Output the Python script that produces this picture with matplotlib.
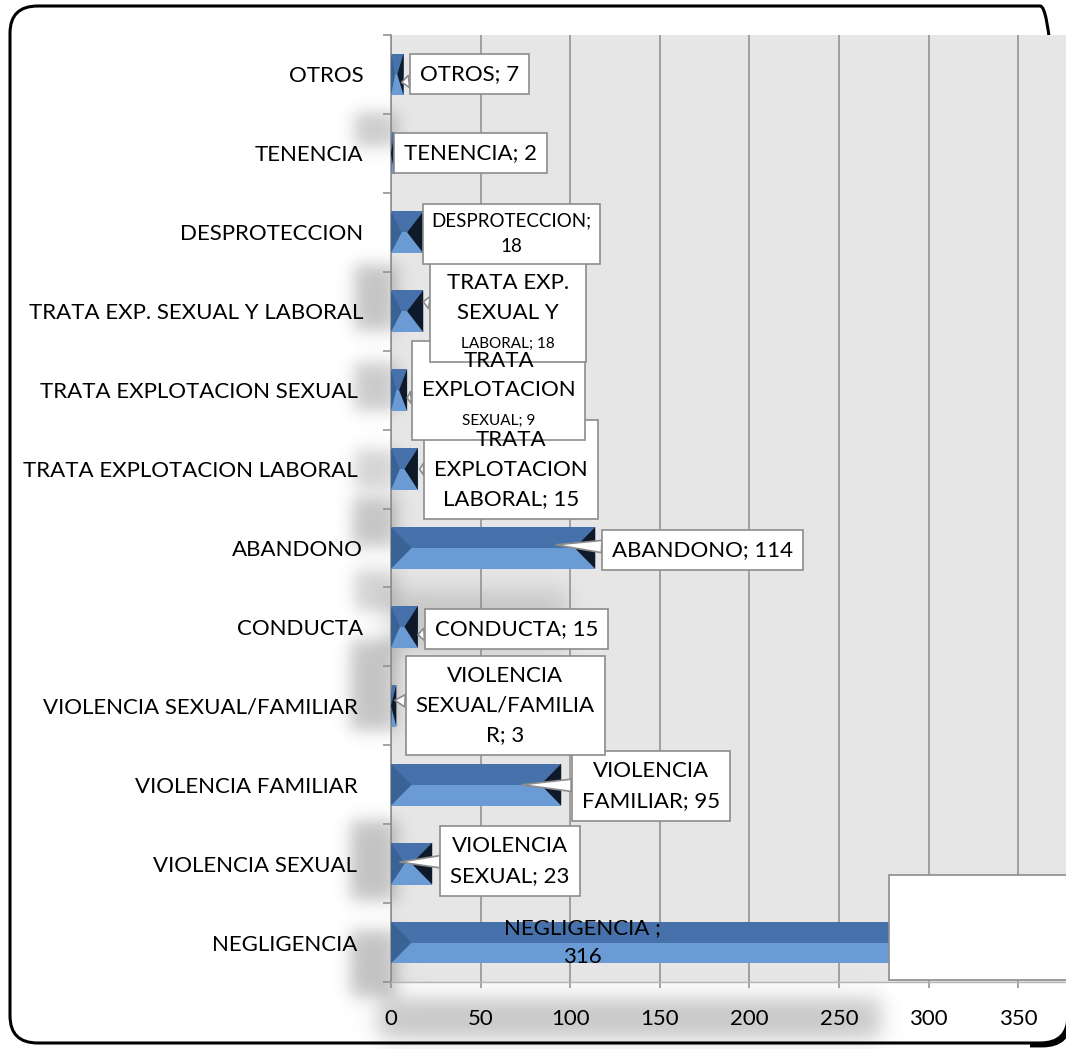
import numpy as np
import matplotlib.pyplot as plt
from matplotlib.patches import FancyBboxPatch, Polygon, Rectangle
from matplotlib.transforms import Bbox

plt.rcParams['font.family'] = ['Lato', 'DejaVu Sans']

# datos (de abajo hacia arriba)
categorias = ["NEGLIGENCIA", "VIOLENCIA SEXUAL", "VIOLENCIA FAMILIAR",
              "VIOLENCIA SEXUAL/FAMILIAR", "CONDUCTA", "ABANDONO",
              "TRATA EXPLOTACION LABORAL", "TRATA EXPLOTACION SEXUAL",
              "TRATA EXP. SEXUAL Y LABORAL", "DESPROTECCION", "TENENCIA", "OTROS"]
casos = [316, 23, 95, 3, 15, 114, 15, 9, 18, 18, 2, 7]
etiquetas_eje = ["NEGLIGENCIA ", "VIOLENCIA SEXUAL ", "VIOLENCIA FAMILIAR ",
                 "VIOLENCIA SEXUAL/FAMILIAR ", "CONDUCTA", "ABANDONO",
                 "TRATA EXPLOTACION LABORAL ", "TRATA EXPLOTACION SEXUAL ",
                 "TRATA EXP. SEXUAL Y LABORAL", "DESPROTECCION", "TENENCIA", "OTROS"]
etiquetas_datos = ["NEGLIGENCIA ;\n316", "VIOLENCIA\nSEXUAL; 23", "VIOLENCIA\nFAMILIAR; 95",
                   "VIOLENCIA\nSEXUAL/FAMILIA\nR; 3", "CONDUCTA; 15", "ABANDONO; 114",
                   "TRATA\nEXPLOTACION\nLABORAL; 15", "TRATA\nEXPLOTACION\nSEXUAL; 9",
                   "TRATA EXP.\nSEXUAL Y\nLABORAL; 18", "DESPROTECCION;\n18",
                   "TENENCIA; 2", "OTROS; 7"]
ticks_x = [0, 50, 100, 150, 200, 250, 300, 350]

# posicion de las cajas y de la punta del globo (x en unidades, desplazamiento en y)
pos_caja = [(107, 0.0), (66.5, 0.03), (145, -0.02), (63.7, 0.0), (70, -0.03), (174, -0.03),
            (67, -0.01), (60, 0.0), (65.4, -0.02), (67, -0.02), (44.2, 0.0), (43.6, 0.0)]
pos_punta = [None, (5, 0.02), (73, 0.0), (2.2, 0.07), (15, -0.1), (92, 0.04),
             (16, 0.0), (9, -0.1), (18, 0.12), (19, -0.07), (4, -0.08), (6, -0.1)]
tam_letra = [16, 16, 16, 16, 16, 16, 16, 16, 16, 13.5, 16, 16]
ultima_chica = [False] * 7 + [True, True] + [False] * 3

W, H = 1066, 1049
FS = 16
LS = 1.6

fig = plt.figure(figsize=(W / 100, H / 100), dpi=100)
# area del grafico en pixeles
px0, px1, py0, py1 = 391, 1066, 35, 982
ax = fig.add_axes([px0 / W, 1 - py1 / H, (px1 - px0) / W, (py1 - py0) / H])
ax.set_facecolor('none')

# marco redondeado (lado derecho queda fuera del lienzo) y fondo gris
marco = FancyBboxPatch((10 / W, 6 / H), 1058 / W, 1037 / H,
                       boxstyle="round,pad=0,rounding_size=0.026",
                       transform=fig.transFigure, fc='none', ec='black', lw=2.2, zorder=-4)
fig.add_artist(marco)
esquina = FancyBboxPatch((12 / W, 4 / H), 1058 / W, 1037 / H,
                         boxstyle="round,pad=0,rounding_size=0.026",
                         transform=fig.transFigure, fc='none', ec='black', lw=3.5, zorder=-4)
fig.add_artist(esquina)
esquina.set_clip_box(Bbox([[1030, 0], [1066, 32]]))
fondo = Rectangle((px0 / W, 1 - py1 / H), (px1 - px0) / W, (py1 - py0) / H,
                  transform=fig.transFigure, fc='#e6e6e6', ec='none', zorder=-3)
fig.add_artist(fondo)

# sombras difusas
xx = np.arange(W)[None, :]
yy = np.arange(H)[:, None]

def suave(x0, x1, y0, y1, s):
    fx = 0.5 * (np.tanh((xx - x0) / s) - np.tanh((xx - x1) / s))
    fy = 0.5 * (np.tanh((yy - y0) / s) - np.tanh((yy - y1) / s))
    return fx * fy

sombras = [(354, 396, 112, 146, 10, 55), (354, 396, 264, 330, 10, 60), (354, 396, 362, 410, 10, 55),
           (354, 396, 449, 488, 10, 45), (352, 396, 497, 546, 10, 60), (354, 396, 569, 610, 10, 45),
           (350, 396, 640, 730, 10, 60), (350, 396, 820, 900, 10, 62), (350, 396, 930, 996, 10, 62),
           (385, 565, 590, 650, 14, 35), (378, 880, 998, 1038, 13, 58)]
sombra = np.zeros((H, W))
for x0, x1, y0, y1, s, k in sombras:
    sombra += k * suave(x0, x1, y0, y1, s)
rgba = np.zeros((H, W, 4))
rgba[..., 3] = np.clip(sombra / 255, 0, 1)
fig.figimage(rgba, xo=0, yo=0, origin='upper', zorder=-2)

# barras con bisel
y = np.arange(len(casos))
h = 0.53
c_sup, c_inf, c_izq, c_der = '#4671aa', '#6b9bd5', '#3a6395', '#0e1a29'
ax.barh(y + h / 4, casos, height=h / 2, color=c_sup, zorder=2)
ax.barh(y - h / 4, casos, height=h / 2, color=c_inf, zorder=2)
for yi, v in zip(y, casos):
    b = min(11.5, v / 2) if v >= 5 else v
    ax.add_patch(Polygon([(0, yi - h / 2), (min(b, v / 3), yi), (0, yi + h / 2)], closed=True,
                         fc=c_izq, ec='none', zorder=3))
    ax.add_patch(Polygon([(v, yi - h / 2), (v - b, yi), (v, yi + h / 2)], closed=True,
                         fc=c_der, ec='none', zorder=3))

# caja blanca sobre la barra de negligencia
ax.add_patch(Rectangle((277.8, -0.47), 120, 1.33, fc='white', ec='#8c8c8c', lw=1.2,
                       zorder=5, clip_on=False))

# etiquetas: primero cajas y globos, luego textos encima
for i in range(len(casos)):
    if pos_punta[i] is None:
        continue
    cx, dy = pos_caja[i]
    tx, tdy = pos_punta[i]
    ax.annotate(etiquetas_datos[i], xy=(tx, y[i] + tdy), xytext=(cx, y[i] + dy),
                fontsize=tam_letra[i], color='none', ha='center', va='center', linespacing=LS,
                bbox=dict(boxstyle='square,pad=0.45', fc='white', ec='#8c8c8c', lw=1.2),
                arrowprops=dict(arrowstyle='wedge,tail_width=0.55,shrink_factor=0.5',
                                fc='white', ec='#8c8c8c', lw=1.2, shrinkA=0, shrinkB=0),
                zorder=6, annotation_clip=False)

paso = (0.74 * LS + 0.2) * FS
for i in range(len(casos)):
    cx, dy = pos_caja[i]
    texto = etiquetas_datos[i]
    if ultima_chica[i]:
        lineas = texto.split('\n')
        ax.text(cx, y[i] + dy, '\n'.join(lineas[:-1] + [' ']), fontsize=FS,
                ha='center', va='center', linespacing=LS, zorder=7)
        ax.annotate(lineas[-1], xy=(cx, y[i] + dy), xytext=(0, -paso), textcoords='offset points',
                    fontsize=11, ha='center', va='center', zorder=7)
    else:
        ax.text(cx, y[i] + dy, texto, fontsize=tam_letra[i], ha='center', va='center',
                linespacing=LS, zorder=7)

# ejes
ax.set_xlim(0, 376.7)
ax.set_ylim(-0.5, len(casos) - 0.5)
ax.set_xticks(ticks_x)
ax.set_xticklabels([str(t) for t in ticks_x])
ax.set_yticks(y)
ax.set_yticklabels(etiquetas_eje)
ax.set_yticks(np.arange(-0.5, len(casos)), minor=True)
ax.tick_params(axis='y', which='major', length=0, pad=20, labelsize=FS)
ax.tick_params(axis='y', which='minor', length=5.5, color='#8c8c8c', width=1.1, direction='out')
ax.tick_params(axis='x', length=4.5, color='#8c8c8c', width=1.1, pad=15, labelsize=FS)
ax.xaxis.grid(True, color='#8c8c8c', lw=1.1)
ax.set_axisbelow(True)
for lado in ['top', 'right']:
    ax.spines[lado].set_visible(False)
ax.spines['left'].set_color('#8c8c8c')
ax.spines['left'].set_linewidth(1.1)
ax.spines['bottom'].set_color('#b4b4b4')
ax.spines['bottom'].set_linewidth(1.0)

plt.savefig('out.png', dpi=100)
